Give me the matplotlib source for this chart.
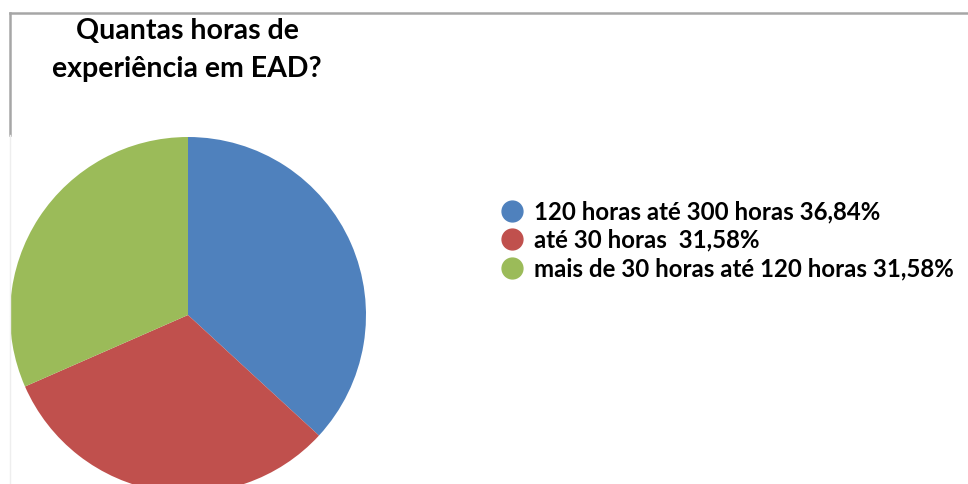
import matplotlib.pyplot as plt
from matplotlib.lines import Line2D

# dados do gráfico
categorias = ['120 horas até 300 horas', 'até 30 horas ', 'mais de 30 horas até 120 horas']
percentuais = [36.84, 31.58, 31.58]
cores = ['#4F81BD', '#C0504D', '#9BBB59']
titulo = 'Quantas horas de\nexperiência em EAD?'

plt.rcParams['font.family'] = ['Lato', 'DejaVu Sans']

fig = plt.figure(figsize=(9.68, 4.84), dpi=100)
ax = fig.add_axes([0, 0, 1, 1])

# pizza começando no topo, sentido horário
wedges, _ = ax.pie(percentuais, colors=cores, startangle=90, counterclock=False,
                   center=(188, 169), radius=178, frame=True)
ax.set_xlim(0, 968)
ax.set_ylim(0, 484)
ax.set_aspect('equal')
ax.axis('off')

# moldura cinza (parte de cima e esquerda)
fig.add_artist(Line2D([10 / 968, 1], [1 - 13 / 484, 1 - 13 / 484], color='#a6a6a6', lw=1.8))
fig.add_artist(Line2D([10 / 968, 10 / 968], [1 - 13 / 484, 1 - 135 / 484], color='#a6a6a6', lw=1.8))
fig.add_artist(Line2D([10 / 968, 10 / 968], [1 - 135 / 484, 0], color='#eeeeee', lw=1))

fig.text(187 / 968, 1 - 50 / 484, titulo, ha='center', va='center',
         fontsize=20.5, fontweight='bold', linespacing=1.55)

labels = []
for c, p in zip(categorias, percentuais):
    labels.append(c + ' ' + '{:.2f}%'.format(p).replace('.', ','))

handles = [Line2D([], [], marker='o', linestyle='', markersize=15,
                  markerfacecolor=cor, markeredgecolor=cor) for cor in cores]
ax.legend(handles, labels, loc='upper left', bbox_to_anchor=(490 / 968, 1 - 191 / 484),
          frameon=False, prop={'size': 17.3, 'weight': 'bold'}, handletextpad=0.45,
          labelspacing=0.22, handlelength=1.0, borderaxespad=0)

fig.savefig('out.png', dpi=100)
